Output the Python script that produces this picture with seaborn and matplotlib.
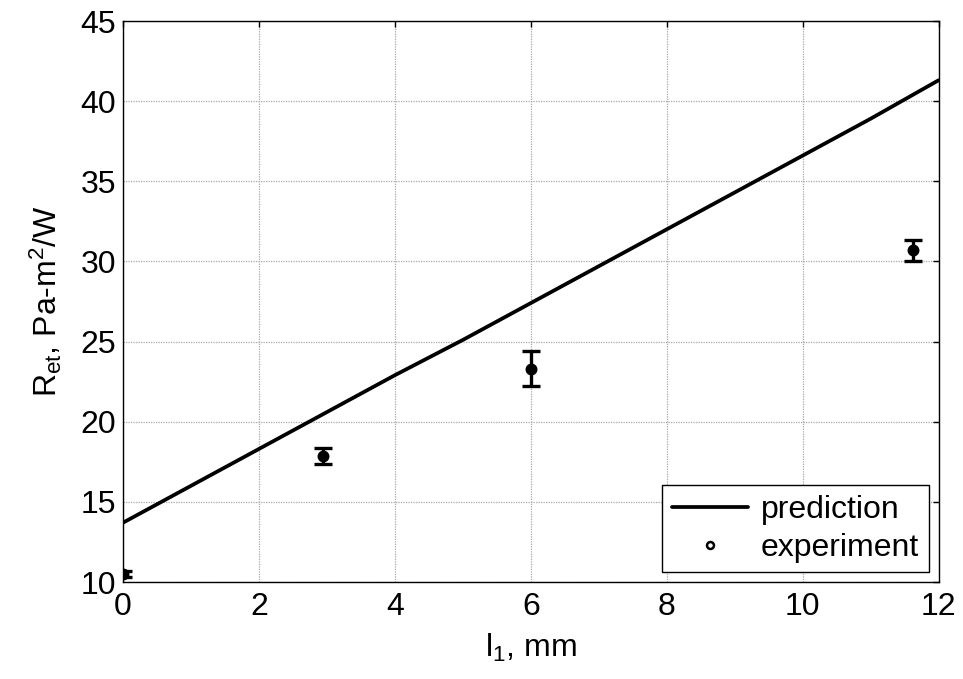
import numpy as np
import pandas as pd
import matplotlib
matplotlib.use("Agg")
import matplotlib.pyplot as plt
from matplotlib.lines import Line2D
import seaborn as sns

# Model prediction of the thermal resistance vs. layer thickness
pred_l1 = [0, 1, 2, 3, 4, 5, 6, 7, 8, 9, 10, 11, 12]
pred_ret = [13.7, 16.0, 18.3, 20.6, 22.9, 25.1, 27.4, 29.7, 32.0, 34.3, 36.6, 38.9, 41.3]

# Measured values with their uncertainty
exp_l1 = [0.0, 2.95, 6.0, 11.62]
exp_ret = [10.5, 17.85, 23.3, 30.7]
exp_err = [0.2, 0.5, 1.1, 0.65]

x_ticks = [0, 2, 4, 6, 8, 10, 12]
y_ticks = [10, 15, 20, 25, 30, 35, 40, 45]

sns.set_style("white")
plt.rcParams["font.family"] = ["Liberation Sans", "DejaVu Sans"]
plt.rcParams["mathtext.fontset"] = "custom"
plt.rcParams["mathtext.rm"] = "Liberation Sans"
plt.rcParams["mathtext.it"] = "Liberation Sans"
plt.rcParams["mathtext.default"] = "regular"
plt.rcParams["text.color"] = "black"
plt.rcParams["axes.labelcolor"] = "black"

FS = 23

fig = plt.figure(figsize=(9.63, 6.79), dpi=100)
ax = fig.add_axes([123 / 963, 97 / 679, (938.5 - 123) / 963, (582 - 21) / 679])

pred_df = pd.DataFrame({"l1": pred_l1, "ret": pred_ret})
exp_df = pd.DataFrame({"l1": exp_l1, "ret": exp_ret, "err": exp_err})

sns.lineplot(data=pred_df, x="l1", y="ret", ax=ax, color="black", linewidth=2.7, zorder=3)
ax.errorbar(exp_df["l1"], exp_df["ret"], yerr=exp_df["err"], fmt="none",
            ecolor="black", elinewidth=2.4, capsize=6.5, capthick=2.4, zorder=4)
sns.scatterplot(data=exp_df, x="l1", y="ret", ax=ax, color="black", s=50,
                edgecolor="black", linewidth=1.5, zorder=5)

ax.set_xlim(0, 12)
ax.set_ylim(10, 45)
ax.set_xticks(x_ticks)
ax.set_yticks(y_ticks)

ax.grid(True, color="#a8a8a8", linestyle=(0, (1, 1)), linewidth=0.9)
for s in ax.spines.values():
    s.set_visible(True)
    s.set_color("black")
    s.set_linewidth(1.0)

ax.tick_params(direction="in", length=4, width=1, top=True, right=True,
               labelsize=FS, colors="black")
ax.tick_params(axis="x", pad=7)
ax.tick_params(axis="y", pad=5)

ax.set_xlabel("l$_1$, mm", fontsize=FS, labelpad=7)
ax.set_ylabel("R$_{et}$, Pa-m$^2$/W", fontsize=FS, labelpad=12)

handles = [
    Line2D([], [], color="black", linewidth=2.7),
    Line2D([], [], color="black", linestyle="none", marker="o", markersize=5,
           markerfacecolor="white", markeredgewidth=1.8),
]
leg = ax.legend(handles, ["prediction", "experiment"], loc="lower right",
                fontsize=FS, frameon=True, fancybox=False, framealpha=1,
                edgecolor="black", handlelength=2.4, handletextpad=0.4,
                borderpad=0.3, labelspacing=0.25, borderaxespad=0.3)
leg.get_frame().set_linewidth(1.0)

fig.savefig("out.png", dpi=100)
